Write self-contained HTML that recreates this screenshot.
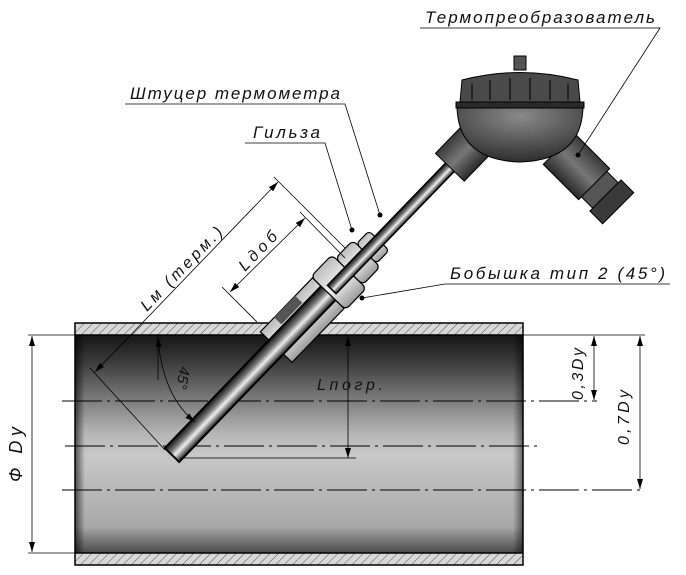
<!DOCTYPE html>
<html><head><meta charset="utf-8"><style>
html,body{margin:0;padding:0;background:#fff}
svg{display:block}
text{font-family:"Liberation Sans",sans-serif;font-style:italic;fill:#111}
</style></head><body>
<svg width="686" height="575" viewBox="0 0 686 575" xmlns="http://www.w3.org/2000/svg">
<defs>
<linearGradient id="pipe" x1="0" y1="0" x2="0" y2="1">
<stop offset="0" stop-color="#151515"/><stop offset="0.12" stop-color="#3a3a3a"/>
<stop offset="0.45" stop-color="#b5b5b5"/><stop offset="0.55" stop-color="#c8c8c8"/>
<stop offset="0.88" stop-color="#a8a8a8"/><stop offset="1" stop-color="#4a4a4a"/>
</linearGradient>
<linearGradient id="edgeL" x1="0" y1="0" x2="1" y2="0">
<stop offset="0" stop-color="#000" stop-opacity="0.6"/><stop offset="1" stop-color="#000" stop-opacity="0"/>
</linearGradient>
<linearGradient id="edgeR" x1="1" y1="0" x2="0" y2="0">
<stop offset="0" stop-color="#000" stop-opacity="0.5"/><stop offset="1" stop-color="#000" stop-opacity="0"/>
</linearGradient>
<pattern id="hatch" width="6" height="6" patternUnits="userSpaceOnUse" patternTransform="rotate(45)">
<rect width="6" height="6" fill="#d8d8d8"/><line x1="0" y1="0" x2="0" y2="6" stroke="#333" stroke-width="0.8"/>
</pattern>
<linearGradient id="rod" x1="0" y1="0" x2="0" y2="1">
<stop offset="0" stop-color="#111"/><stop offset="0.35" stop-color="#777"/><stop offset="0.6" stop-color="#eee"/><stop offset="1" stop-color="#222"/>
</linearGradient>
<linearGradient id="fit" x1="0" y1="0" x2="0" y2="1">
<stop offset="0" stop-color="#bbb"/><stop offset="0.5" stop-color="#f2f2f2"/><stop offset="1" stop-color="#999"/>
</linearGradient>
<linearGradient id="dark" x1="0" y1="0" x2="0" y2="1">
<stop offset="0" stop-color="#3a3a3a"/><stop offset="0.5" stop-color="#777"/><stop offset="1" stop-color="#2a2a2a"/>
</linearGradient>
<radialGradient id="dome" cx="0.5" cy="0.2" r="0.8">
<stop offset="0" stop-color="#8a8a8a"/><stop offset="1" stop-color="#2e2e2e"/>
</radialGradient>
<marker id="ar" viewBox="0 0 10 6" refX="10" refY="3" markerWidth="10" markerHeight="6" orient="auto-start-reverse" markerUnits="userSpaceOnUse">
<path d="M0,0 L10,3 L0,6 z" fill="#000"/></marker>
</defs>

<rect x="75" y="335" width="448" height="218" fill="url(#pipe)"/>
<rect x="75" y="335" width="10" height="218" fill="url(#edgeL)"/>
<rect x="513" y="335" width="10" height="218" fill="url(#edgeR)"/>
<rect x="75" y="323" width="448" height="12" fill="url(#hatch)" stroke="#000" stroke-width="1.5"/>
<rect x="75" y="553" width="448" height="12" fill="url(#hatch)" stroke="#000" stroke-width="1.5"/>
<line x1="75" y1="335" x2="75" y2="553" stroke="#000" stroke-width="1.5"/>
<line x1="523" y1="335" x2="523" y2="553" stroke="#000" stroke-width="1.5"/>

<g stroke="#000" stroke-width="1" stroke-dasharray="40,5,3,5">
<line x1="62" y1="401" x2="597" y2="401"/>
<line x1="65" y1="446" x2="540" y2="446"/>
<line x1="62" y1="490" x2="643" y2="490"/>
</g>

<g transform="translate(172,455) rotate(-46)">
<rect x="150" y="-22" width="75" height="44" fill="url(#fit)" stroke="#000" stroke-width="1.2"/>
<rect x="170" y="-22" width="30" height="10" fill="#555"/>
<rect x="0" y="-10" width="240" height="20" fill="url(#rod)" stroke="#000" stroke-width="2"/>
<rect x="225" y="-24" width="30" height="48" rx="5" fill="url(#fit)" stroke="#000" stroke-width="1.2"/>
<rect x="255" y="-19" width="25" height="38" rx="5" fill="url(#fit)" stroke="#000" stroke-width="1.2"/>
<rect x="280" y="-14" width="18" height="28" rx="4" fill="url(#fit)" stroke="#000" stroke-width="1.2"/>
<rect x="230" y="-6" width="180" height="12" fill="url(#rod)" stroke="#000" stroke-width="1.5"/>
<rect x="400" y="-20" width="40" height="40" fill="url(#dark)" stroke="#000"/>
</g>

<g>
<g transform="translate(580,170) rotate(45)">
<rect x="-30" y="-22" width="50" height="44" fill="url(#dark)" stroke="#000"/>
<rect x="20" y="-18" width="16" height="36" fill="#555" stroke="#000"/>
<rect x="36" y="-22" width="18" height="44" fill="#3a3a3a" stroke="#000"/>
</g>
<path d="M457,105 L583,105 Q583,160 520,162 Q457,160 457,105 z" fill="url(#dome)" stroke="#000"/>
<rect x="456" y="102" width="128" height="6" fill="#2a2a2a" stroke="#000"/>
<path d="M460,102 L462,80 Q520,65 578,80 L580,102 z" fill="#4a4a4a" stroke="#000"/>
<g stroke="#222" stroke-width="2">
<line x1="472" y1="84" x2="472" y2="100"/><line x1="490" y1="80" x2="490" y2="100"/>
<line x1="510" y1="78" x2="510" y2="100"/><line x1="530" y1="78" x2="530" y2="100"/>
<line x1="550" y1="80" x2="550" y2="100"/><line x1="568" y1="84" x2="568" y2="100"/>
</g>
<rect x="514" y="56" width="12" height="14" fill="#555" stroke="#000"/>
</g>

<g stroke="#000" stroke-width="0.8" fill="none">
<line x1="28" y1="335" x2="75" y2="335"/><line x1="28" y1="553" x2="75" y2="553"/>
<line x1="32" y1="336" x2="32" y2="552" marker-start="url(#ar)" marker-end="url(#ar)"/>
<line x1="523" y1="335" x2="645" y2="335"/>
<line x1="594" y1="336" x2="594" y2="400" marker-start="url(#ar)" marker-end="url(#ar)"/>
<line x1="640" y1="336" x2="640" y2="489" marker-start="url(#ar)" marker-end="url(#ar)"/>
<line x1="348" y1="336" x2="348" y2="458" marker-start="url(#ar)" marker-end="url(#ar)"/>
<line x1="180" y1="458" x2="356" y2="458"/>
<line x1="158" y1="336" x2="158" y2="380"/>
<path d="M158,337 Q162,395 195,422" marker-start="url(#ar)" marker-end="url(#ar)"/>
<line x1="165" y1="450" x2="90" y2="368"/>
<line x1="95" y1="372" x2="278" y2="182" marker-start="url(#ar)" marker-end="url(#ar)"/>
<line x1="274" y1="177" x2="345" y2="248"/>
<line x1="230" y1="292" x2="305" y2="218" marker-start="url(#ar)" marker-end="url(#ar)"/>
<line x1="300" y1="212" x2="345" y2="258"/>
<line x1="222" y1="287" x2="257" y2="322"/>
<polyline points="420,28 660,28 578,155"/>
<polyline points="125,104 345,104 380,215"/>
<polyline points="245,143 325,143 352,230"/>
<polyline points="670,284 445,284 362,298"/>
</g>
<g fill="#000"><circle cx="578" cy="155" r="2.5"/><circle cx="380" cy="215" r="2.5"/><circle cx="352" cy="230" r="2.5"/><circle cx="362" cy="298" r="2.5"/></g>

<g font-size="17">
<text x="425" y="23" textLength="230" lengthAdjust="spacing">Термопреобразователь</text>
<text x="130" y="99" textLength="210" lengthAdjust="spacing">Штуцер термометра</text>
<text x="253" y="138" textLength="67" lengthAdjust="spacing">Гильза</text>
<text x="450" y="279" textLength="215" lengthAdjust="spacing">Бобышка тип 2 (45°)</text>
<text x="317" y="390" font-size="16" textLength="66" lengthAdjust="spacing">Lпогр.</text>
<text transform="translate(22,482) rotate(-90)" font-size="18" textLength="55" lengthAdjust="spacing">Ф Dy</text>
<text transform="translate(583,400) rotate(-90)" font-size="16" textLength="52" lengthAdjust="spacing">0,3Dy</text>
<text transform="translate(629,445) rotate(-90)" font-size="16" textLength="55" lengthAdjust="spacing">0,7Dy</text>
<text transform="translate(147,312) rotate(-46)" font-size="16" textLength="110" lengthAdjust="spacing">Lм (терм.)</text>
<text transform="translate(245,272) rotate(-46)" font-size="16" textLength="48" lengthAdjust="spacing">Lдоб</text>
<text transform="translate(180,366) rotate(100)" font-size="15">45°</text>
</g>
</svg>
</body></html>
